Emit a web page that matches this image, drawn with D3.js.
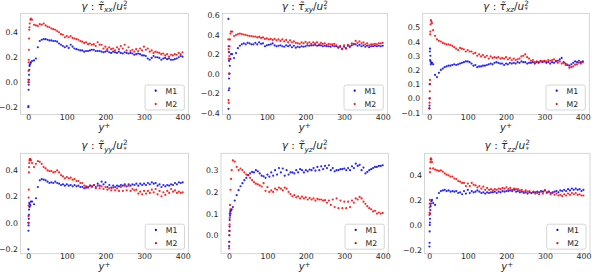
<!DOCTYPE html>
<html>
<head>
<meta charset="utf-8">
<script src="https://cdn.jsdelivr.net/npm/d3@7"></script>
<style>
  html, body { margin: 0; padding: 0; background: #fff; }
  svg { display: block; font-family: "DejaVu Sans", sans-serif; }
</style>
</head>
<body>
<svg id="fig" width="592" height="275"></svg>
<script>
// y+ positions: near-wall points, then two interleaved traces (A every 10, B offset by 5)
const yPlus = [
  0.3, 0.6, 0.9, 1.2, 1.5, 1.8, 2.2, 2.7, 3.3, 4, 5.5, 7,
  10, 20, 30, 40, 50, 60, 70, 80, 90, 100, 110, 120, 130, 140, 150, 160, 170, 180, 190, 200,
  210, 220, 230, 240, 250, 260, 270, 280, 290, 300, 310, 320, 330, 340, 350, 360, 370, 380, 390, 400,
  15, 25, 35, 45, 55, 65, 75, 85, 95, 105, 115, 125, 135, 145, 155, 165, 175, 185, 195, 205,
  215, 225, 235, 245, 255, 265, 275, 285, 295, 305, 315, 325, 335, 345, 355, 365, 375, 385, 395
];

const xxM1 = [
  -0.2, -0.19, -0.06, -0.02, 0.0, 0.02, 0.06, 0.1, 0.13, 0.14, 0.15, 0.16,
  0.17, 0.19, 0.33, 0.345, 0.34, 0.335, 0.33, 0.31, 0.29, 0.29, 0.30, 0.27, 0.26, 0.255, 0.25, 0.255, 0.26, 0.25, 0.245, 0.245,
  0.24, 0.245, 0.235, 0.235, 0.24, 0.23, 0.23, 0.225, 0.225, 0.215, 0.19, 0.195, 0.2, 0.195, 0.19, 0.185, 0.18, 0.185, 0.2, 0.205,
  0.175, 0.28, 0.34, 0.345, 0.335, 0.33, 0.325, 0.3, 0.28, 0.275, 0.285, 0.265, 0.255, 0.245, 0.25, 0.26, 0.25, 0.25, 0.24, 0.25,
  0.235, 0.24, 0.245, 0.23, 0.235, 0.235, 0.22, 0.23, 0.215, 0.21, 0.18, 0.21, 0.2, 0.18, 0.195, 0.19, 0.18, 0.19, 0.21
];
const xxM2 = [
  0.0, 0.02, 0.09, 0.16, 0.18, 0.26, 0.35, 0.42, 0.44, 0.47, 0.5, 0.51,
  0.5, 0.455, 0.465, 0.47, 0.445, 0.43, 0.42, 0.4, 0.38, 0.37, 0.37, 0.35, 0.34, 0.325, 0.32, 0.31, 0.305, 0.32, 0.3, 0.285,
  0.28, 0.27, 0.28, 0.29, 0.3, 0.28, 0.26, 0.265, 0.27, 0.285, 0.27, 0.255, 0.245, 0.235, 0.23, 0.225, 0.22, 0.225, 0.235, 0.24,
  0.46, 0.45, 0.46, 0.455, 0.44, 0.425, 0.41, 0.385, 0.36, 0.36, 0.355, 0.345, 0.33, 0.315, 0.305, 0.3, 0.29, 0.3, 0.27, 0.265,
  0.265, 0.255, 0.265, 0.27, 0.255, 0.25, 0.245, 0.25, 0.255, 0.26, 0.245, 0.235, 0.24, 0.225, 0.215, 0.205, 0.215, 0.22, 0.225
];
const xyM1 = [
  0.56, -0.36, 0.28, -0.17, 0.22, -0.05, 0.13, -0.15, 0.0, 0.08, 0.15, 0.2,
  0.2, 0.21, 0.285, 0.31, 0.315, 0.3, 0.315, 0.32, 0.31, 0.29, 0.3, 0.29, 0.285, 0.28, 0.29, 0.29, 0.285, 0.275, 0.28, 0.28,
  0.285, 0.29, 0.285, 0.29, 0.285, 0.28, 0.285, 0.28, 0.275, 0.275, 0.285, 0.29, 0.3, 0.295, 0.29, 0.285, 0.28, 0.285, 0.285, 0.285,
  0.16, 0.26, 0.3, 0.3, 0.31, 0.3, 0.3, 0.305, 0.28, 0.295, 0.31, 0.28, 0.29, 0.275, 0.28, 0.27, 0.265, 0.27, 0.275, 0.29,
  0.29, 0.295, 0.29, 0.28, 0.28, 0.275, 0.28, 0.265, 0.255, 0.26, 0.28, 0.3, 0.285, 0.28, 0.275, 0.27, 0.28, 0.28, 0.28
];
const xyM2 = [
  0.35, -0.27, 0.25, -0.3, 0.15, 0.0, 0.22, 0.18, 0.28, 0.35, 0.41, 0.43,
  0.43, 0.395, 0.41, 0.4, 0.39, 0.385, 0.38, 0.375, 0.37, 0.36, 0.355, 0.355, 0.35, 0.35, 0.345, 0.34, 0.33, 0.31, 0.32, 0.325,
  0.32, 0.32, 0.32, 0.315, 0.31, 0.305, 0.3, 0.29, 0.285, 0.29, 0.295, 0.31, 0.335, 0.33, 0.32, 0.31, 0.3, 0.305, 0.31, 0.315,
  0.385, 0.405, 0.405, 0.395, 0.385, 0.38, 0.37, 0.365, 0.355, 0.35, 0.345, 0.34, 0.335, 0.33, 0.32, 0.32, 0.315, 0.305, 0.31, 0.31,
  0.305, 0.31, 0.3, 0.305, 0.295, 0.3, 0.305, 0.27, 0.25, 0.255, 0.27, 0.305, 0.315, 0.31, 0.3, 0.29, 0.3, 0.3, 0.31
];
const xzM1 = [
  -0.07, -0.05, 0.0, 0.1, 0.33, 0.35, 0.27, 0.3, 0.26, 0.24, 0.25, 0.25,
  0.24, 0.15, 0.2, 0.22, 0.23, 0.235, 0.235, 0.245, 0.255, 0.26, 0.245, 0.235, 0.225, 0.23, 0.235, 0.245, 0.25, 0.25, 0.245, 0.245,
  0.25, 0.25, 0.255, 0.26, 0.255, 0.25, 0.255, 0.255, 0.26, 0.26, 0.255, 0.255, 0.26, 0.275, 0.255, 0.235, 0.24, 0.26, 0.265, 0.26,
  0.165, 0.18, 0.21, 0.225, 0.23, 0.24, 0.24, 0.25, 0.26, 0.255, 0.23, 0.22, 0.225, 0.23, 0.24, 0.24, 0.255, 0.245, 0.235, 0.24,
  0.245, 0.245, 0.25, 0.255, 0.245, 0.25, 0.245, 0.25, 0.255, 0.25, 0.245, 0.25, 0.265, 0.285, 0.245, 0.23, 0.25, 0.255, 0.255
];
const xzM2 = [
  -0.07, -0.03, 0.0, 0.05, 0.1, 0.13, 0.45, 0.47, 0.52, 0.55, 0.54, 0.53,
  0.48, 0.415, 0.4, 0.385, 0.38, 0.37, 0.35, 0.355, 0.345, 0.34, 0.33, 0.32, 0.31, 0.305, 0.3, 0.295, 0.29, 0.29, 0.285, 0.29,
  0.285, 0.28, 0.275, 0.295, 0.31, 0.28, 0.27, 0.26, 0.265, 0.265, 0.27, 0.27, 0.265, 0.26, 0.25, 0.237, 0.22, 0.237, 0.25, 0.255,
  0.44, 0.405, 0.39, 0.38, 0.375, 0.36, 0.34, 0.35, 0.33, 0.33, 0.315, 0.3, 0.295, 0.29, 0.28, 0.285, 0.285, 0.28, 0.28, 0.275,
  0.27, 0.27, 0.28, 0.3, 0.29, 0.265, 0.255, 0.255, 0.26, 0.26, 0.265, 0.275, 0.25, 0.245, 0.235, 0.215, 0.225, 0.24, 0.245
];
const yyM1 = [
  -0.2, -0.06, -0.02, 0.0, 0.03, 0.06, 0.1, 0.15, 0.12, 0.14, 0.13, 0.16,
  0.16, 0.185, 0.32, 0.325, 0.31, 0.305, 0.31, 0.295, 0.29, 0.29, 0.285, 0.285, 0.28, 0.27, 0.265, 0.28, 0.285, 0.295, 0.31, 0.305,
  0.285, 0.28, 0.28, 0.285, 0.29, 0.29, 0.29, 0.295, 0.295, 0.295, 0.3, 0.305, 0.3, 0.29, 0.285, 0.285, 0.29, 0.3, 0.305, 0.305,
  0.14, 0.27, 0.33, 0.32, 0.3, 0.3, 0.3, 0.285, 0.28, 0.28, 0.275, 0.275, 0.27, 0.26, 0.27, 0.275, 0.27, 0.28, 0.29, 0.27,
  0.265, 0.27, 0.275, 0.28, 0.275, 0.28, 0.285, 0.28, 0.285, 0.285, 0.29, 0.295, 0.28, 0.27, 0.275, 0.28, 0.285, 0.29, 0.3
];
const yyM2 = [
  0.0, 0.05, 0.13, 0.19, 0.25, 0.38, 0.42, 0.45, 0.47, 0.48, 0.48, 0.47,
  0.45, 0.445, 0.46, 0.42, 0.395, 0.39, 0.385, 0.38, 0.35, 0.345, 0.34, 0.33, 0.315, 0.3, 0.275, 0.28, 0.285, 0.28, 0.275, 0.27,
  0.26, 0.265, 0.26, 0.27, 0.28, 0.28, 0.255, 0.25, 0.235, 0.24, 0.24, 0.25, 0.255, 0.24, 0.23, 0.24, 0.255, 0.245, 0.235, 0.23,
  0.42, 0.465, 0.445, 0.41, 0.39, 0.38, 0.395, 0.36, 0.335, 0.335, 0.325, 0.315, 0.3, 0.28, 0.265, 0.27, 0.26, 0.26, 0.255, 0.25,
  0.245, 0.245, 0.24, 0.24, 0.245, 0.24, 0.245, 0.22, 0.215, 0.22, 0.225, 0.23, 0.215, 0.2, 0.21, 0.225, 0.235, 0.225, 0.225
];
const yzM1 = [
  -0.05, -0.03, 0.0, 0.02, 0.04, 0.07, 0.1, 0.09, 0.11, 0.1, 0.115, 0.12,
  0.13, 0.185, 0.226, 0.254, 0.277, 0.292, 0.3, 0.285, 0.272, 0.28, 0.29, 0.3, 0.31, 0.308, 0.3, 0.29, 0.285, 0.29, 0.3, 0.3,
  0.303, 0.31, 0.315, 0.318, 0.32, 0.323, 0.31, 0.3, 0.305, 0.308, 0.31, 0.318, 0.33, 0.325, 0.312, 0.292, 0.305, 0.315, 0.32, 0.323,
  0.16, 0.208, 0.24, 0.265, 0.285, 0.29, 0.295, 0.275, 0.265, 0.27, 0.275, 0.28, 0.29, 0.275, 0.28, 0.29, 0.3, 0.305, 0.29, 0.295,
  0.3, 0.298, 0.3, 0.305, 0.31, 0.3, 0.295, 0.3, 0.305, 0.3, 0.3, 0.31, 0.32, 0.3, 0.285, 0.3, 0.31, 0.315, 0.32
];
const yzM2 = [
  -0.06, -0.03, 0.0, 0.02, 0.05, 0.08, 0.1, 0.14, 0.12, 0.21, 0.26, 0.3,
  0.345, 0.315, 0.308, 0.29, 0.277, 0.254, 0.238, 0.23, 0.24, 0.222, 0.207, 0.215, 0.22, 0.207, 0.215, 0.19, 0.185, 0.18, 0.178, 0.175,
  0.172, 0.17, 0.168, 0.165, 0.162, 0.16, 0.165, 0.17, 0.16, 0.155, 0.155, 0.16, 0.17, 0.177, 0.155, 0.134, 0.12, 0.113, 0.105, 0.103,
  0.34, 0.3, 0.3, 0.28, 0.265, 0.245, 0.235, 0.225, 0.205, 0.2, 0.2, 0.21, 0.215, 0.22, 0.2, 0.18, 0.175, 0.17, 0.17, 0.165,
  0.165, 0.16, 0.165, 0.16, 0.15, 0.14, 0.13, 0.125, 0.125, 0.125, 0.13, 0.15, 0.165, 0.17, 0.145, 0.125, 0.11, 0.1, 0.1
];
const zzM1 = [
  -0.17, -0.14, -0.05, 0.0, 0.02, 0.05, 0.09, 0.12, 0.15, 0.17, 0.19, 0.2,
  0.175, 0.215, 0.27, 0.28, 0.275, 0.27, 0.27, 0.26, 0.27, 0.28, 0.27, 0.265, 0.265, 0.26, 0.26, 0.26, 0.265, 0.265, 0.27, 0.27,
  0.275, 0.28, 0.27, 0.265, 0.26, 0.26, 0.26, 0.265, 0.27, 0.275, 0.265, 0.26, 0.27, 0.275, 0.28, 0.285, 0.29, 0.29, 0.285, 0.28,
  0.16, 0.255, 0.275, 0.27, 0.265, 0.265, 0.255, 0.245, 0.25, 0.255, 0.26, 0.275, 0.255, 0.25, 0.255, 0.26, 0.255, 0.26, 0.265, 0.27,
  0.27, 0.265, 0.26, 0.255, 0.25, 0.255, 0.26, 0.26, 0.265, 0.26, 0.255, 0.265, 0.26, 0.27, 0.27, 0.275, 0.28, 0.28, 0.27
];
const zzM2 = [
  0.08, 0.1, 0.14, 0.17, 0.2, 0.42, 0.45, 0.5, 0.52, 0.53, 0.52, 0.5,
  0.45, 0.435, 0.435, 0.41, 0.395, 0.385, 0.365, 0.345, 0.335, 0.33, 0.335, 0.315, 0.31, 0.305, 0.295, 0.285, 0.285, 0.29, 0.295, 0.3,
  0.295, 0.29, 0.285, 0.28, 0.275, 0.27, 0.265, 0.255, 0.265, 0.275, 0.265, 0.255, 0.25, 0.24, 0.245, 0.25, 0.255, 0.255, 0.245, 0.235,
  0.44, 0.43, 0.425, 0.4, 0.385, 0.37, 0.35, 0.335, 0.31, 0.31, 0.32, 0.3, 0.29, 0.28, 0.28, 0.275, 0.28, 0.285, 0.29, 0.285,
  0.28, 0.285, 0.275, 0.265, 0.265, 0.255, 0.25, 0.245, 0.25, 0.255, 0.245, 0.24, 0.235, 0.23, 0.235, 0.24, 0.245, 0.24, 0.235
];

const components = ['xx', 'xy', 'xz', 'yy', 'yz', 'zz'];
const seriesM1 = [xxM1, xyM1, xzM1, yyM1, yzM1, zzM1];
const seriesM2 = [xxM2, xyM2, xzM2, yyM2, yzM2, zzM2];
const modelNames = ['M1', 'M2'];
const modelColors = ['#0000ff', '#ff0000'];
const xTicks = [0, 100, 200, 300, 400];
const yTicks = [
  [-0.2, 0.0, 0.2, 0.4],
  [-0.4, -0.2, 0.0, 0.2, 0.4, 0.6],
  [-0.1, 0.0, 0.1, 0.2, 0.3, 0.4, 0.5],
  [-0.2, 0.0, 0.2, 0.4],
  [0.0, 0.1, 0.2, 0.3],
  [-0.2, 0.0, 0.2, 0.4]
];

// axes boxes and limits (layout)
const panels = [
  { l: 20.5, r: 188.3, t: 13.5, b: 114.5, xd: [-20, 415], yd: [-0.258, 0.55] },
  { l: 222.3, r: 387.3, t: 13.5, b: 114.5, xd: [-15.5, 412], yd: [-0.418, 0.615] },
  { l: 422.7, r: 589.3, t: 13.5, b: 114.5, xd: [-17.2, 417], yd: [-0.113, 0.597] },
  { l: 20.5, r: 188.5, t: 153.3, b: 253.7, xd: [-20, 415], yd: [-0.233, 0.524] },
  { l: 221, r: 388.3, t: 153.3, b: 253.7, xd: [-20.8, 414.6], yd: [-0.085, 0.378] },
  { l: 424.5, r: 590, t: 153.3, b: 253.7, xd: [-12.5, 417], yd: [-0.227, 0.57] }
];

const svg = d3.select('#fig');
const fmt = d => d3.format('.1f')(d).replace('-', '\u2212');
const textColor = '#262626';

panels.forEach((p, i) => {
    const x = d3.scaleLinear().domain(p.xd).range([p.l, p.r]);
    const y = d3.scaleLinear().domain(p.yd).range([p.b, p.t]);
    const g = svg.append('g').attr('class', 'panel-' + components[i]);

    // points
    [seriesM1[i], seriesM2[i]].forEach((vals, m) => {
        g.append('g').selectAll('circle')
            .data(vals.map((v, k) => [yPlus[k], v]))
            .enter().append('circle')
            .attr('cx', d => x(d[0]))
            .attr('cy', d => y(d[1]))
            .attr('r', 1.1)
            .attr('fill', modelColors[m])
            .attr('fill-opacity', 0.85);
    });

    // frame
    g.append('rect')
        .attr('x', p.l).attr('y', p.t)
        .attr('width', p.r - p.l).attr('height', p.b - p.t)
        .attr('fill', 'none')
        .attr('stroke', '#cccccc')
        .attr('stroke-width', 0.8);

    // x axis
    const xAxis = d3.axisBottom(x).tickValues(xTicks).tickSize(0).tickPadding(0);
    const gx = g.append('g').attr('transform', `translate(0,${p.b})`).call(xAxis);
    gx.select('.domain').remove();
    gx.selectAll('text').attr('fill', textColor).attr('font-size', '7.8px').attr('font-family', 'DejaVu Sans');

    // y axis
    const yAxis = d3.axisLeft(y).tickValues(yTicks[i]).tickFormat(fmt).tickSize(0).tickPadding(2.5);
    const gy = g.append('g').attr('transform', `translate(${p.l},0)`).call(yAxis);
    gy.select('.domain').remove();
    gy.selectAll('text').attr('fill', textColor).attr('font-size', '7.8px').attr('font-family', 'DejaVu Sans');

    // title: gamma : tau~_ij / u_*^2
    const cx = (p.l + p.r) / 2;
    const title = g.append('text')
        .attr('x', cx).attr('y', p.t - 4)
        .attr('text-anchor', 'middle')
        .attr('font-size', '10.5px')
        .attr('fill', textColor);
    title.append('tspan').attr('font-style', 'italic').text('\u03b3');
    title.append('tspan').text(' : ');
    title.append('tspan').attr('font-style', 'italic').text('\u03c4\u0303');
    title.append('tspan').attr('font-style', 'italic').attr('font-size', '7.3px').attr('dy', 2.5).text(components[i]);
    title.append('tspan').attr('dy', -2.5).text('/');
    title.append('tspan').attr('font-style', 'italic').text('u');
    title.append('tspan').attr('font-size', '7.3px').attr('dy', -4).text('2');
    title.append('tspan').attr('font-size', '7.3px').attr('dx', -4.4).attr('dy', 6.5).text('*');

    // x label
    const xl = g.append('text')
        .attr('x', cx).attr('y', p.b + 16.6)
        .attr('text-anchor', 'middle')
        .attr('font-size', '10px')
        .attr('fill', textColor);
    xl.append('tspan').attr('font-style', 'italic').text('y');
    xl.append('tspan').attr('font-size', '7.2px').attr('dy', -3.6).text('+');

    // legend
    const lg = g.append('g').attr('transform', `translate(${p.r - 43.3},${p.b - 29.5})`);
    lg.append('rect')
        .attr('width', 39.3).attr('height', 25).attr('rx', 2)
        .attr('fill', '#fff').attr('fill-opacity', 0.8)
        .attr('stroke', '#cccccc').attr('stroke-width', 0.8);
    modelNames.forEach((name, m) => {
        const row = lg.append('g').attr('transform', `translate(0,${5.7 + m * 13.3})`);
        row.append('circle').attr('cx', 10.7).attr('cy', 0).attr('r', 1.1).attr('fill', modelColors[m]);
        row.append('text').attr('x', 20.5).attr('y', 2.8)
            .attr('font-size', '7.8px').attr('fill', textColor).text(name);
    });
});
</script>
</body>
</html>
